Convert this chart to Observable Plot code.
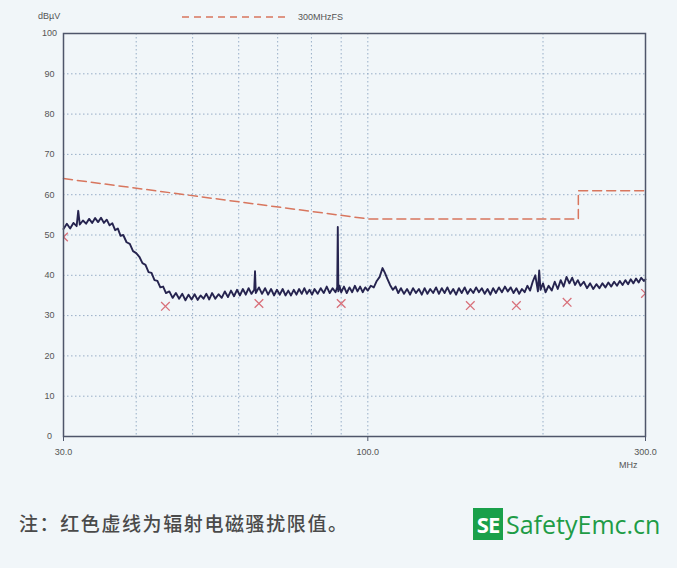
<!DOCTYPE html>
<html>
<head>
<meta charset="utf-8">
<script src="https://cdn.jsdelivr.net/npm/d3@7"></script>
<script src="https://cdn.jsdelivr.net/npm/@observablehq/plot@0.6"></script>
<style>
  body { margin: 0; background: #f1f6f9; }
  #wrap { position: relative; width: 677px; height: 568px; overflow: hidden; background: #f1f6f9; font-family: "Liberation Sans", Arial, sans-serif; }
  #chart { position: absolute; left: 0; top: 0; }
  .lbl { position: absolute; font-size: 9px; color: #555; white-space: nowrap; }
  #legend { position: absolute; left: 182px; top: 10px; height: 14px; }
  #caption { position: absolute; left: 19px; top: 509px; font-family: "Noto Sans CJK SC", sans-serif; font-size: 19px; letter-spacing: 1.6px; color: #4a4a4a; font-weight: 500; white-space: nowrap; }
  #logo { position: absolute; left: 473px; top: 508px; height: 32px; display: flex; align-items: center; }
  #logo .box { background: #1aa04a; color: #fff; font-family: "Open Sans", sans-serif; font-weight: 700; font-size: 22px; width: 30px; height: 32px; line-height: 32px; text-align: center; letter-spacing: -1px; }
  #logo .txt { color: #1e9c46; font-family: "Open Sans", sans-serif; font-size: 25px; margin-left: 3px; line-height: 32px; }
</style>
</head>
<body>
<div id="wrap">
  <div id="chart"></div>
  <div class="lbl" style="left:38px;top:11px;">dBµV</div>
  <div id="legend"></div>
  <div class="lbl" style="left:619px;top:460px;">MHz</div>
  <div id="caption"></div>
  <div id="logo"><div class="box">SE</div><div class="txt">SafetyEmc.cn</div></div>
</div>
<script>
// ---- data ----
const legendLabel = "300MHzFS";
const yLabel = "dBµV";
const xUnit = "MHz";
const captionText = "注：红色虚线为辐射电磁骚扰限值。";

const yTicks = [0, 10, 20, 30, 40, 50, 60, 70, 80, 90, 100];
const xTicks = [30, 100, 300];
const xTickLabels = ["30.0", "100.0", "300.0"];
const gridFreqs = [40, 50, 60, 70, 80, 90, 100, 200];
const gridLevels = [10, 20, 30, 40, 50, 60, 70, 80, 90];

// limit line [MHz, dBµV]
const limitLine = [[30, 64], [100, 54], [230, 54], [230, 61], [300, 61]];

// measured peaks [MHz, dBµV]
const peaks = [[30, 49.5], [44.9, 32.3], [65, 33], [90, 33], [150, 32.5], [180, 32.5], [220, 33.3], [300, 35.5]];

// measured trace [MHz, dBµV]
const trace = [
  [30.0,51.5],[30.4,52.8],[30.8,51.6],[31.2,53.0],[31.6,52.2],[31.8,56.0],[32.0,52.6],[32.4,53.6],[32.8,52.8],[33.2,54.0],
  [33.6,53.0],[34.0,54.2],[34.4,53.2],[34.8,54.3],[35.2,53.0],[35.6,53.8],[36.0,52.4],[36.4,52.9],[36.8,51.2],[37.2,51.6],
  [37.6,49.8],[38.0,50.0],[38.5,48.2],[39.0,47.8],[39.5,46.0],[40.0,45.5],[40.5,44.6],[41.0,43.0],[41.5,42.6],[42.0,40.8],
  [42.5,40.6],[43.0,38.8],[43.5,38.6],[44.0,37.0],[44.5,37.2],[45.0,35.6],[45.6,36.0],[46.2,34.4],[46.8,35.6],[47.4,34.2],
  [48.0,35.4],[48.6,33.8],[49.2,35.2],[49.8,34.0],[50.4,35.3],[51.0,33.9],[51.6,35.0],[52.2,34.2],[52.8,35.4],[53.4,34.0],
  [54.0,35.6],[54.7,34.2],[55.4,35.3],[56.1,34.4],[56.8,36.0],[57.5,34.6],[58.2,36.2],[58.9,34.8],[59.6,36.4],[60.3,35.0],
  [61.0,36.6],[61.7,35.2],[62.4,36.8],[63.1,35.4],[63.8,36.4],[64.0,41.0],[64.2,35.6],[65.0,37.0],[65.8,35.4],[66.6,36.8],
  [67.4,35.2],[68.2,36.6],[69.0,35.0],[69.8,36.4],[70.6,35.2],[71.4,36.6],[72.2,35.0],[73.0,36.2],[73.8,35.0],[74.6,36.4],
  [75.4,35.2],[76.2,36.6],[77.0,35.4],[77.8,36.8],[78.6,35.4],[79.4,36.4],[80.2,35.2],[81.0,36.6],[82.0,35.4],[83.0,36.8],
  [84.0,35.6],[85.0,37.2],[86.0,35.6],[87.0,36.8],[88.0,35.8],[88.6,37.0],[88.8,52.0],[89.0,36.0],[89.4,37.4],[90.0,35.8],
  [91.0,37.2],[92.0,35.6],[93.0,37.0],[94.0,35.8],[95.0,37.4],[96.0,36.0],[97.0,37.2],[98.0,35.8],[99.0,37.0],[100.0,36.2],
  [101.2,37.4],[102.4,37.0],[103.6,38.6],[104.8,39.6],[106.0,41.8],[107.0,40.6],[108.0,39.2],[109.2,37.6],[110.4,36.4],[111.6,37.2],
  [112.8,35.6],[114.0,36.8],[115.4,35.4],[116.8,36.6],[118.2,35.2],[119.6,36.8],[121.0,35.6],[122.4,36.6],[123.8,35.2],[125.2,36.8],
  [126.6,35.4],[128.0,36.6],[129.5,35.6],[131.0,37.0],[132.5,35.4],[134.0,36.8],[135.5,35.6],[137.0,37.0],[138.6,35.4],[140.2,36.6],
  [141.8,35.2],[143.4,36.8],[145.0,35.6],[146.7,37.0],[148.4,35.4],[150.1,36.6],[151.8,35.6],[153.5,37.0],[155.2,35.8],[157.0,36.8],
  [158.8,35.4],[160.6,36.6],[162.4,35.2],[164.2,36.8],[166.0,35.6],[168.0,37.0],[170.0,35.8],[172.0,37.2],[174.0,36.0],[176.0,37.0],
  [178.0,35.6],[180.0,36.8],[182.0,35.4],[184.0,36.6],[186.0,35.8],[188.0,37.4],[190.0,36.2],[192.0,38.4],[194.0,40.0],[196.0,36.0],
  [197.0,41.2],[198.0,36.4],[200.0,38.0],[202.0,35.8],[204.5,37.4],[207.0,36.2],[209.5,38.4],[212.0,36.6],[214.5,38.8],[217.0,37.2],
  [219.5,39.6],[222.0,38.0],[224.5,39.4],[227.0,37.6],[229.5,38.8],[232.0,37.4],[235.0,38.4],[238.0,36.8],[241.0,38.0],[244.0,36.6],
  [247.0,37.8],[250.0,36.8],[253.0,38.0],[256.0,37.0],[259.0,38.2],[262.0,37.2],[265.0,38.4],[268.0,37.4],[271.0,38.6],[274.0,37.6],
  [277.0,38.8],[280.0,37.8],[283.0,39.0],[286.0,38.0],[289.0,39.2],[292.0,38.2],[295.0,39.4],[298.0,38.6],[300.0,39.0]
];

// ---- chart ----
const plot = Plot.plot({
  width: 677,
  height: 480,
  marginLeft: 63,
  marginRight: 32,
  marginTop: 33,
  marginBottom: 44,
  style: { background: "transparent", fontFamily: "Liberation Sans, Arial, sans-serif" },
  x: { type: "log", domain: [30, 300] },
  y: { domain: [0, 100] },
  marks: [
    Plot.gridX(gridFreqs, { stroke: "#8ea6c2", strokeOpacity: 0.9, strokeDasharray: "1.5,2.5" }),
    Plot.gridY(gridLevels, { stroke: "#8ea6c2", strokeOpacity: 0.9, strokeDasharray: "1.5,2.5" }),
    Plot.line(limitLine, { x: d => d[0], y: d => d[1], stroke: "#d8765e", strokeWidth: 1.5, strokeDasharray: "9,5" }),
    Plot.line(trace, { x: d => d[0], y: d => d[1], stroke: "#26244f", strokeWidth: 1.9, strokeLinejoin: "round" }),
    Plot.dot(peaks, { x: d => d[0], y: d => d[1], symbol: "times", r: 4, stroke: "#d8707a", strokeWidth: 1.3, clip: "frame" }),
    Plot.frame({ stroke: "#4f566a", strokeWidth: 1.5 }),
    Plot.axisY(yTicks, { tickSize: 0, tickPadding: 14, textAnchor: "middle", fontSize: 9, fill: "#555", label: null }),
    Plot.axisX(xTicks, { tickSize: 5, tickPadding: 7, stroke: "#4f566a", fontSize: 9, fill: "#555", label: null,
      tickFormat: d => xTickLabels[xTicks.indexOf(d)] })
  ]
});
document.getElementById("chart").appendChild(plot);

// legend
const leg = d3.select("#legend").append("svg").attr("width", 180).attr("height", 14);
leg.append("line").attr("x1", 0).attr("x2", 104).attr("y1", 7).attr("y2", 7)
  .attr("stroke", "#d8765e").attr("stroke-width", 1.3).attr("stroke-dasharray", "7,5");
leg.append("text").attr("x", 116).attr("y", 10).attr("font-size", 9).attr("fill", "#555")
  .attr("font-family", "Liberation Sans, Arial, sans-serif").text(legendLabel);

document.getElementById("caption").textContent = captionText;
</script>
</body>
</html>
